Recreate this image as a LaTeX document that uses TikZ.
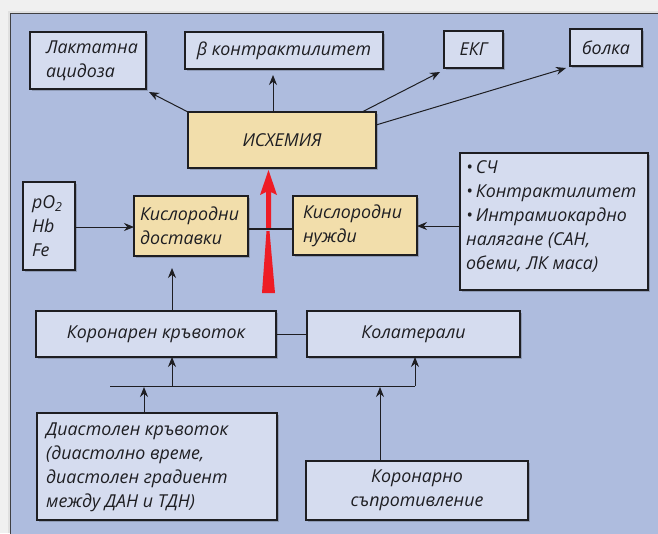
\documentclass[tikz,border=0pt]{standalone}
\usepackage{fontspec}
\setmainfont{Open Sans}
\usetikzlibrary{arrows.meta,shadows}
\definecolor{panel}{HTML}{AEBCDE}
\definecolor{boxfill}{HTML}{D5DCEF}
\definecolor{yelfill}{HTML}{F2DEAB}
\definecolor{ink}{HTML}{1E1E22}
\definecolor{redarrow}{HTML}{EE1C25}
\tikzset{
  txt/.style={font=\fontsize{17.8}{24}\selectfont\itshape, text=ink},
  basebox/.style={draw=ink, line width=1.3pt, inner sep=0pt, outer sep=0pt, txt,
    drop shadow={shadow xshift=2pt, shadow yshift=-2pt, fill=black, opacity=0.18}},
  bluebox/.style={basebox, fill=boxfill},
  yelbox/.style={basebox, fill=yelfill},
  conn/.style={draw=ink, line width=1pt},
  arr/.style={conn, -{Stealth[length=10pt,width=8pt]}},
}
\begin{document}
\begin{tikzpicture}[x=1pt,y=-1pt]
\useasboundingbox (0,0) rectangle (658,533);
\fill[white!94!black] (0,0) rectangle (658,533);
\fill[black!12] (8,11) rectangle (658,533);
\fill[panel] (10,13) rectangle (660,535);
\draw[ink!85, line width=1pt] (10,535) -- (10,13) -- (660,13);

% top row
\node[bluebox, minimum width=116pt, minimum height=57pt, align=left, text width=84pt] (lact) at (88,60.5)
  {Лактатна\\ацидоза};
\node[bluebox, minimum width=198pt, minimum height=37pt] (beta) at (284,50.5)
  {β контрактилитет};
\node[bluebox, minimum width=59pt, minimum height=37pt] (ekg) at (473.5,49.5) {ЕКГ};
\node[bluebox, minimum width=72pt, minimum height=37pt] (bolka) at (606,47.5) {болка};

% ischemia
\node[yelbox, minimum width=188pt, minimum height=56pt] (isch) at (282,140) {ИСХЕМИЯ};

% middle row
\node[bluebox, minimum width=52pt, minimum height=88pt, align=left, text width=34pt] (po2) at (49,226)
  {pO\textsubscript{2}\\Hb\\Fe};
\node[yelbox, minimum width=114pt, minimum height=60pt, align=left, text width=102pt] (dost) at (191,226)
  {Кислородни\\доставки};
\node[yelbox, minimum width=124pt, minimum height=59pt, align=left, text width=104pt] (nuzh) at (355,225.5)
  {Кислородни\\нужди};
\node[bluebox, minimum width=188pt, minimum height=137pt, anchor=north west] (sch) at (460,153) {};
\node[txt, align=left, anchor=north west, inner sep=0pt] (schtext) at (466,160)
  {\textbullet\,СЧ\\
   \textbullet\,Контрактилитет\\
   \textbullet\,Интрамиокардно\\
   налягане (САН,\\
   обеми, ЛК маса)};

% coronary row
\node[bluebox, minimum width=240pt, minimum height=46pt] (kor) at (156,334) {Коронарен кръвоток};
\node[bluebox, minimum width=213pt, minimum height=46pt] (kol) at (413.5,334) {Колатерали};

% bottom row
\node[bluebox, minimum width=240pt, minimum height=107pt, anchor=north west] (diast) at (37,413) {};
\node[txt, align=left, anchor=north west, inner sep=0pt] (diasttext) at (46,423)
  {Диастолен кръвоток\\
   (диастолно време,\\
   диастолен градиент\\
   между ДАН и ТДН)};
\node[bluebox, minimum width=222pt, minimum height=59pt, align=center] (sopr) at (417,490.5)
  {Коронарно\\съпротивление};

% red arrow
\fill[redarrow] (262,293) -- (275,293) -- (269.5,231) -- (266.5,231) -- cycle;
\fill[redarrow] (266,229) -- (271,229) -- (271,192) -- (277,195) -- (268.5,170) -- (260,195) -- (266,192) -- cycle;

% connectors from ischemia
\draw[arr] (isch.north west) -- (149,92);
\draw[arr] (273,112) -- (273,75);
\draw[arr] (362,112) -- (440,72);
\draw[arr] (376,125) -- (566,68);

% middle connectors
\draw[arr] (po2.east |- 0,227) -- (dost.west |- 0,227);
\draw[ink, line width=1.6pt] (dost.east |- 0,229) -- (nuzh.west |- 0,229);
\draw[arr] (sch.west |- 0,226) -- (nuzh.east |- 0,226);
\draw[arr] (kor.north -| 172,0) -- (172,268);
\draw[conn] (kor.east) -- (kol.west);

% bottom connectors
\coordinate (hl) at (110,386);
\coordinate (hr) at (415,386);
\draw[conn] (hl) -- (hr);
\draw[arr] (hr) -- (kol.south -| hr);
\draw[arr] (172,386) -- (kor.south -| 172,0);
\draw[arr] (diast.north -| 144,0) -- (144,387);
\draw[arr] (sopr.north -| 380,0) -- (380,387);
\end{tikzpicture}
\end{document}
